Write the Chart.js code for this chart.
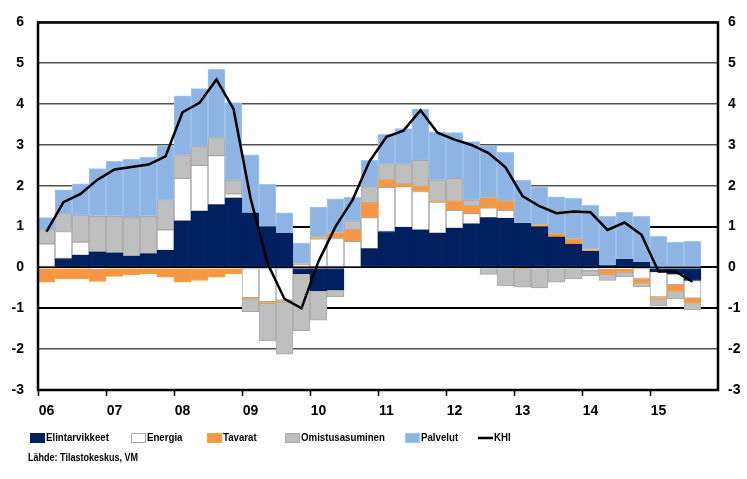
<!DOCTYPE html>
<html lang="fi">
<head>
<meta charset="utf-8">
<title>KHI ja sen osatekijät</title>
<script src="https://cdn.jsdelivr.net/npm/chart.js@4.4.1/dist/chart.umd.min.js"></script>
<style>
    html, body { margin: 0; padding: 0; background: #fff; }
    canvas { display: block; }
</style>
</head>
<body>
<canvas id="khi-chart" width="747" height="479"></canvas>
<script>
// Quarters 2006Q1 - 2015Q4 (last quarter has no data)
const quarters = [
    '2006Q1', '2006Q2', '2006Q3', '2006Q4', '2007Q1', '2007Q2', '2007Q3', '2007Q4',
    '2008Q1', '2008Q2', '2008Q3', '2008Q4', '2009Q1', '2009Q2', '2009Q3', '2009Q4',
    '2010Q1', '2010Q2', '2010Q3', '2010Q4', '2011Q1', '2011Q2', '2011Q3', '2011Q4',
    '2012Q1', '2012Q2', '2012Q3', '2012Q4', '2013Q1', '2013Q2', '2013Q3', '2013Q4',
    '2014Q1', '2014Q2', '2014Q3', '2014Q4', '2015Q1', '2015Q2', '2015Q3', '2015Q4'
];
const yearLabels = ['06', '07', '08', '09', '10', '11', '12', '13', '14', '15'];
const yTicks = [-3, -2, -1, 0, 1, 2, 3, 4, 5, 6];

const seriesNames = ['Elintarvikkeet', 'Energia', 'Tavarat', 'Omistusasuminen', 'Palvelut', 'KHI'];

// contributions, %-points
const elintarvikkeet = [0, 0.22, 0.30, 0.38, 0.36, 0.28, 0.34, 0.42, 1.14, 1.38, 1.54, 1.70, 1.34, 1.00, 0.84, -0.15,
    -0.57, -0.55, 0.02, 0.46, 0.88, 0.98, 0.92, 0.84, 0.96, 1.07, 1.22, 1.20, 1.08, 1.00, 0.75, 0.57,
    0.40, 0.05, 0.20, 0.13, -0.10, -0.16, -0.32];
const energia = [0.58, 0.66, 0.32, -0.04, 0, 0, 0, 0.50, 1.04, 1.12, 1.20, 0.10, -0.74, -0.84, -0.80, 0.06,
    0.70, 0.71, 0.62, 0.76, 1.08, 1.00, 0.94, 0.76, 0.44, 0.25, 0.24, 0.20, 0, 0, 0, 0,
    -0.08, -0.04, -0.04, -0.27, -0.62, -0.26, -0.43];
const tavarat = [-0.36, -0.28, -0.28, -0.30, -0.22, -0.18, -0.16, -0.24, -0.36, -0.32, -0.24, -0.16, -0.03, -0.04, -0.04, 0.03,
    0.05, 0.14, 0.28, 0.36, 0.18, 0.06, 0.12, 0.04, 0.22, 0.18, 0.25, 0.22, -0.03, 0.05, 0.08, 0.12,
    0.04, -0.12, -0.07, -0.10, -0.05, -0.15, -0.11];
const omistusasuminen = [0.34, 0.44, 0.66, 0.88, 0.90, 0.94, 0.92, 0.72, 0.58, 0.46, 0.44, 0.34, -0.31, -0.92, -1.28, -1.40,
    -0.72, -0.17, 0.22, 0.40, 0.38, 0.50, 0.64, 0.50, 0.56, 0.15, -0.17, -0.45, -0.45, -0.50, -0.36, -0.28,
    -0.12, -0.16, -0.12, -0.10, -0.17, -0.20, -0.18];
const palvelut = [0.30, 0.58, 0.77, 1.16, 1.34, 1.43, 1.44, 1.34, 1.44, 1.42, 1.67, 1.90, 1.42, 1.04, 0.50, 0.51,
    0.73, 0.83, 0.58, 0.64, 0.74, 0.86, 1.26, 1.18, 1.12, 1.43, 1.27, 1.20, 1.06, 0.91, 0.90, 1.00,
    1.08, 1.20, 1.15, 1.12, 0.76, 0.62, 0.64];
// consumer price index, annual change %
const khi = [0.88, 1.60, 1.80, 2.15, 2.40, 2.46, 2.52, 2.72, 3.80, 4.03, 4.60, 3.88, 1.70, 0.10, -0.77, -1.00,
    0.15, 1.00, 1.65, 2.60, 3.20, 3.35, 3.85, 3.30, 3.13, 3.00, 2.80, 2.45, 1.75, 1.50, 1.33, 1.37,
    1.35, 0.92, 1.10, 0.80, -0.10, -0.10, -0.35];

const sourceText = 'Lähde: Tilastokeskus, VM';

const FONT = '"Liberation Sans", Arial, sans-serif';

// narrow-looking text: draw with a horizontal squeeze
function drawNarrowText(ctx, text, x, y, squeeze) {
    ctx.save();
    ctx.translate(x, y);
    ctx.scale(squeeze, 1);
    ctx.fillText(text, 0, 0);
    ctx.restore();
}

// frame around plot area + legend + source line
const decorPlugin = {
    id: 'decor',
    afterDraw(chart) {
        const { ctx, chartArea: a } = chart;
        ctx.save();
        ctx.strokeStyle = '#000';
        ctx.lineWidth = 2.5;
        ctx.strokeRect(a.left, a.top, a.right - a.left, a.bottom - a.top);

        // legend
        const legendX = [30, 131, 207, 285, 405, 478];
        const legendY = 438;
        ctx.font = `bold 11px ${FONT}`;
        ctx.textBaseline = 'middle';
        ctx.textAlign = 'left';
        chart.data.datasets.forEach((ds, i) => {
            const x = legendX[i];
            if (ds.type === 'line') {
                ctx.strokeStyle = ds.borderColor;
                ctx.lineWidth = 2.5;
                ctx.beginPath();
                ctx.moveTo(x, legendY);
                ctx.lineTo(x + 15, legendY);
                ctx.stroke();
            } else {
                ctx.fillStyle = ds.backgroundColor;
                ctx.fillRect(x, legendY - 5, 15, 10);
                ctx.strokeStyle = ds.borderColor;
                ctx.lineWidth = 1;
                ctx.strokeRect(x + 0.5, legendY - 4.5, 14, 9);
            }
            ctx.fillStyle = '#000';
            drawNarrowText(ctx, ds.label, x + 16, legendY, 0.88);
        });

        drawNarrowText(ctx, sourceText, 28, 458, 0.82);
        ctx.restore();
    }
};

function barSet(label, data, fill, border) {
    return {
        type: 'bar',
        label: label,
        data: data,
        backgroundColor: fill,
        borderColor: border,
        borderWidth: 1,
        borderSkipped: false,
        categoryPercentage: 1,
        barPercentage: 1,
        order: 1
    };
}

const isBold = v => v === -1 || v === 0 || v === 1;

new Chart(document.getElementById('khi-chart'), {
    data: {
        labels: quarters,
        datasets: [
            barSet(seriesNames[0], elintarvikkeet, '#002060', '#002060'),
            barSet(seriesNames[1], energia, '#FFFFFF', '#A6A6A6'),
            barSet(seriesNames[2], tavarat, '#F79646', '#F5A431'),
            barSet(seriesNames[3], omistusasuminen, '#BFBFBF', '#A8A8A8'),
            barSet(seriesNames[4], palvelut, '#8DB4E2', '#A3C8F0'),
            {
                type: 'line',
                label: seriesNames[5],
                data: khi,
                borderColor: '#000000',
                backgroundColor: '#000000',
                borderWidth: 2.5,
                pointRadius: 0,
                tension: 0,
                fill: false,
                stack: 'khi',
                order: 0
            }
        ]
    },
    options: {
        responsive: false,
        animation: false,
        devicePixelRatio: 1,
        layout: { padding: { top: 15, left: 0, right: 0, bottom: 0 } },
        plugins: {
            legend: { display: false },
            tooltip: { enabled: false }
        },
        scales: {
            x: {
                stacked: true,
                offset: true,
                afterFit: scale => { scale.height = 89; },
                grid: {
                    offset: true,
                    drawOnChartArea: false,
                    tickLength: 6,
                    tickWidth: 1.5,
                    tickColor: ctx => (ctx.index % 4 === 0 ? '#000' : 'rgba(0,0,0,0)')
                },
                border: { display: false },
                ticks: {
                    autoSkip: false,
                    maxRotation: 0,
                    padding: 7,
                    color: '#000',
                    font: { family: FONT, size: 14, weight: 'bold' },
                    callback: (val, i) => (i % 4 === 0 ? yearLabels[i / 4] : '')
                }
            },
            y: {
                stacked: true,
                position: 'left',
                min: yTicks[0],
                max: yTicks[yTicks.length - 1],
                afterFit: scale => { scale.width = 38; },
                grid: {
                    drawTicks: false,
                    color: ctx => (isBold(ctx.tick.value) ? '#000' : '#505050'),
                    lineWidth: ctx => (isBold(ctx.tick.value) ? 2 : 1.5)
                },
                border: { display: false },
                ticks: {
                    stepSize: 1,
                    padding: 14,
                    color: '#000',
                    font: { family: FONT, size: 14, weight: 'bold' }
                }
            },
            y2: {
                position: 'right',
                min: yTicks[0],
                max: yTicks[yTicks.length - 1],
                afterFit: scale => { scale.width = 29; },
                grid: { drawOnChartArea: false, drawTicks: false },
                border: { display: false },
                ticks: {
                    stepSize: 1,
                    padding: 10,
                    color: '#000',
                    font: { family: FONT, size: 14, weight: 'bold' }
                }
            }
        }
    },
    plugins: [decorPlugin]
});
</script>
</body>
</html>
